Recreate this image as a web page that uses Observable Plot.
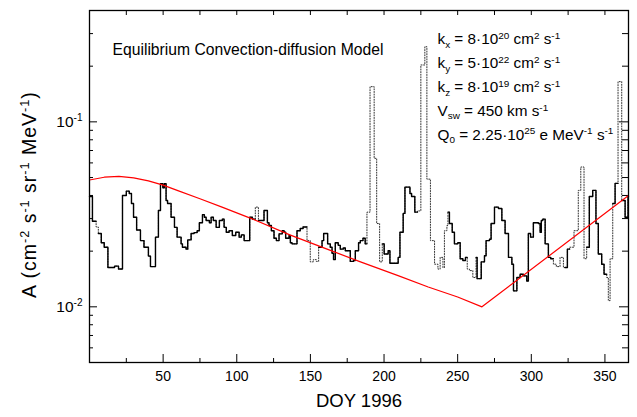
<!DOCTYPE html>
<html><head><meta charset="utf-8">
<script src="https://cdn.jsdelivr.net/npm/d3@7"></script>
<script src="https://cdn.jsdelivr.net/npm/@observablehq/plot@0.6"></script>
<style>body{margin:0;background:#fff} svg{display:block} .ylab text{letter-spacing:1px}</style>
</head><body><div id="chart"></div>
<script>
// Step start days (DOY 1996); each value holds until the next day in the list
const doy = [0,2,4.5,6,8,10,12.5,17,19.7,22.4,25,27,28.5,29.9,32,34.6,37,40,41.4,44.8,
46.8,48.2,49.8,50.8,52,53,55.4,57.7,59.5,62.2,63.1,65.6,66.7,69,71,73.1,74.6,76.7,78,79.2,
81.4,82.6,84.1,86,88.2,90.2,91.4,92.9,94.8,97,99.3,101.6,103.1,105,108.8,110.6,112.6,114.7,118.5,120.8,
121.9,123.5,125.3,126.9,128.7,130.9,132.1,133.2,135.5,136.4,137.5,140.9,143.1,145,147.7,149.9,152,154,155.6,157.9,
159,161.7,163.5,164.7,165.7,166.9,168.9,170.3,172.3,173.7,177.1,179.3,180.5,182.7,183.9,185.7,187.2,188.4,190.5,193.3,
195,197,198.8,200.1,202.8,204,209.6,210.8,213,214.2,217.6,218.7,220.9,222.7,225,227.7,229.1,231.5,234.3,236.6,
238.1,240,241,242.7,243.4,244.4,246.3,247.8,250.1,251.7,253.5,255.3,256.5,258,260.3,262.5,263.2,266,268.2,269.3,
271.6,272.7,275,277.7,280,282.2,284.5,286.8,287.9,290.2,292.4,294.6,296.9,298,299.5,301.4,304.8,306,306.8,307.8,
309.4,311.6,313.2,315,317,319.5,321.8,322.9,324.5,326,329,331.9,333.6,335.8,337.6,339.4,341.7,343.9,345.5,347.8,
349.4,351.2,352.3,353.5,355.3,356.9,358.9,361.4,363.7,365.7];
// Full record (dotted curve)
const fluxAll = [0.0395,0.0290,0.0270,0.0249,0.0222,0.0210,0.0163,0.0166,0.0160,0.0400,0.0422,0.0410,0.0362,0.0305,0.0260,0.0228,0.0210,0.0188,0.0165,0.0238,
0.0332,0.0463,0.0440,0.0463,0.0376,0.0362,0.0305,0.0269,0.0238,0.0219,0.0210,0.0205,0.0230,0.0249,0.0252,0.0258,0.0285,0.0315,0.0305,0.0293,
0.0285,0.0305,0.0293,0.0269,0.0293,0.0298,0.0269,0.0253,0.0258,0.0243,0.0253,0.0238,0.0245,0.0228,0.0305,0.0298,0.0346,0.0293,0.0332,0.0285,
0.0275,0.0258,0.0235,0.0228,0.0248,0.0258,0.0253,0.0235,0.0243,0.0222,0.0219,0.0258,0.0265,0.0270,0.0228,0.0175,0.0180,0.0176,0.0210,0.0228,
0.0249,0.0219,0.0210,0.0195,0.0180,0.0222,0.0215,0.0205,0.0208,0.0201,0.0176,0.0178,0.0201,0.0222,0.0228,0.0235,0.0219,0.0325,0.155,0.0635,
0.0282,0.0175,0.0219,0.0193,0.0201,0.0172,0.0185,0.0253,0.0320,0.0444,0.0410,0.0395,0.0325,0.0330,0.203,0.255,0.0490,0.0228,0.0170,0.0160,
0.0185,0.0163,0.0258,0.0275,0.0325,0.0282,0.0253,0.0219,0.0222,0.0182,0.0178,0.0185,0.0160,0.0157,0.0144,0.0185,0.0142,0.0175,0.0189,0.0228,
0.0232,0.0282,0.0346,0.0340,0.0293,0.0249,0.0185,0.0170,0.0122,0.0144,0.0150,0.0147,0.0138,0.0249,0.0238,0.0285,0.0282,0.0253,0.0293,0.0298,
0.0219,0.0185,0.0182,0.0170,0.0165,0.0185,0.0163,0.0163,0.0205,0.0210,0.0258,0.0426,0.0570,0.0182,0.0210,0.0395,0.0426,0.0282,0.0193,0.0170,
0.0150,0.0144,0.0108,0.0182,0.0362,0.0465,0.165,0.0376,0.0305,0.0395];
// 1 = interval drawn solid, 0 = only the dotted curve
const solidFlag = [1,1,0,1,1,1,1,1,1,1,1,1,1,1,1,1,1,1,1,1,
1,1,1,1,1,1,1,1,1,1,1,1,1,1,1,1,1,1,1,1,
1,1,1,1,1,1,1,1,1,1,1,1,1,1,1,1,0,1,1,1,
1,1,1,1,1,1,1,1,1,1,1,1,1,1,0,0,0,0,1,1,
1,1,1,1,1,1,1,1,1,1,1,1,1,1,1,1,1,0,0,0,
0,0,1,1,1,1,1,1,1,1,1,1,1,0,0,0,0,0,0,0,
0,0,0,0,1,1,1,1,1,1,1,1,0,0,0,1,1,1,1,1,
1,1,1,1,1,1,1,1,1,1,1,1,1,1,1,1,1,1,1,1,
1,1,1,0,0,0,0,1,1,0,0,0,0,0,1,1,1,1,1,1,
1,0,0,0,1,1,0,1,1,1];
const lastDay = 366;

// Model curve (red)
const modelDoy  = [0,10,20,30,40,50,60,75,90,110,136,160,184,210,230,250,266.5,366];
const modelFlux = [0.0485,0.0502,0.0507,0.0498,0.0480,0.0455,0.0425,0.0384,0.0346,0.0300,0.0245,0.0207,0.0175,0.0147,0.0128,0.0113,0.0100,0.0400];

const xMajorTicks = [50,100,150,200,250,300,350];
const xMinorTicks = [25,75,125,175,225,275,325];
const yMajorTicks = [0.01,0.1];
const yMinorTicks = [0.006,0.007,0.008,0.009,0.02,0.03,0.04,0.05,0.06,0.07,0.08,0.09,0.2,0.3];
const yTickLabels = ["10^{-2}","10^{-1}"];
const titleText = "Equilibrium Convection-diffusion Model";
const paramLines = [
  "k_{x} = 8·10^{20} cm^{2} s^{-1}",
  "k_{y} = 5·10^{22} cm^{2} s^{-1}",
  "k_{z} = 8·10^{19} cm^{2} s^{-1}",
  "V_{sw} = 450 km s^{-1}",
  "Q_{0} = 2.25·10^{25} e MeV^{-1} s^{-1}"
];
const xLabel = "DOY 1996";
const yLabel = "A (cm^{-2} s^{-1} sr^{-1} MeV^{-1})";

function stepPoints(vals, flags) {
  const pts = [];
  for (let i = 0; i < doy.length; i++) {
    if (flags && !flags[i]) continue;
    const end = i + 1 < doy.length ? doy[i + 1] : lastDay;
    if (i === 0 || (flags && !flags[i - 1])) pts.push({x: doy[i], y: null});
    pts.push({x: doy[i], y: vals[i]});
    pts.push({x: end, y: vals[i]});
  }
  return pts;
}

const W = 637, H = 417, mL = 89, mR = 9, mT = 10, mB = 55;
const fw = W - mL - mR, fh = H - mT - mB;
const model = modelDoy.map((d, i) => ({x: d, y: modelFlux[i]}));

const marks = [
  Plot.axisX({ticks: xMajorTicks, tickSize: 0, tickPadding: 9, label: null, fontSize: 14}),
  Plot.axisY({ticks: yMajorTicks, tickSize: 0, tickPadding: 7, label: null, fontSize: 15.5,
    tickFormat: d => yTickLabels[yMajorTicks.indexOf(d)]}),
  Plot.tickX(xMajorTicks, {x: d => d, insetTop: fh - 8, stroke: "black"}),
  Plot.tickX(xMinorTicks, {x: d => d, insetTop: fh - 4, stroke: "black"}),
  Plot.tickX(xMajorTicks.concat(xMinorTicks), {x: d => d, insetBottom: fh - 5, stroke: "black"}),
  Plot.tickY(yMajorTicks, {y: d => d, insetRight: fw - 8, stroke: "black"}),
  Plot.tickY(yMinorTicks, {y: d => d, insetRight: fw - 4, stroke: "black"}),
  Plot.tickY(yMajorTicks, {y: d => d, insetLeft: fw - 9, stroke: "black"}),
  Plot.tickY(yMinorTicks, {y: d => d, insetLeft: fw - 6, stroke: "black"}),
  Plot.line(stepPoints(fluxAll, null), {x: "x", y: "y", stroke: "#333", strokeWidth: 1, strokeDasharray: "1,1.6"}),
  Plot.line(stepPoints(fluxAll, solidFlag), {x: "x", y: "y", stroke: "black", strokeWidth: 1.4}),
  Plot.line(model, {x: "x", y: "y", stroke: "#ff0000", strokeWidth: 1.2}),
  Plot.frame({stroke: "black", strokeWidth: 1.3}),
  Plot.text([titleText], {text: d => d, frameAnchor: "top-left", dx: 23, dy: 33.5, textAnchor: "start", fontSize: 15.7}),
  ...paramLines.map((t, i) => Plot.text([t], {text: d => d, frameAnchor: "top-left", dx: 348, dy: 23 + 23.9 * i, textAnchor: "start", fontSize: 15.3})),
  Plot.text([xLabel], {text: d => d, frameAnchor: "bottom", dy: 44.5, fontSize: 18.5}),
  Plot.text([yLabel], {text: d => d, frameAnchor: "left", dx: -60, dy: 8, rotate: -90, textAnchor: "middle", fontSize: 19.5, className: "ylab"})
];

const chart = Plot.plot({
  width: W, height: H, marginLeft: mL, marginRight: mR, marginTop: mT, marginBottom: mB,
  style: {fontFamily: "'Liberation Sans', Arial, Helvetica, sans-serif", fontSize: "14px", color: "black", background: "white"},
  x: {domain: [0, 366]},
  y: {type: "log", domain: [0.005, 0.4]},
  marks
});
document.getElementById("chart").appendChild(chart);

function richify(el) {
  const s = el.textContent;
  if (!/[\^_]\{/.test(s)) return;
  const fs = parseFloat(getComputedStyle(el).fontSize);
  while (el.firstChild) el.removeChild(el.firstChild);
  const re = /([\^_])\{([^}]*)\}|([^\^_]+)/g;
  let m, off = 0;
  while ((m = re.exec(s))) {
    const t = document.createElementNS("http://www.w3.org/2000/svg", "tspan");
    let target, size;
    if (m[3] !== undefined) { target = 0; size = fs; t.textContent = m[3]; }
    else { target = m[1] === "^" ? -0.36 * fs : 0.22 * fs; size = 0.65 * fs; t.textContent = m[2]; }
    t.setAttribute("font-size", size);
    const d = target - off;
    if (d) t.setAttribute("dy", d);
    off = target;
    el.appendChild(t);
  }
}
chart.querySelectorAll("text").forEach(richify);
</script>
</body></html>
